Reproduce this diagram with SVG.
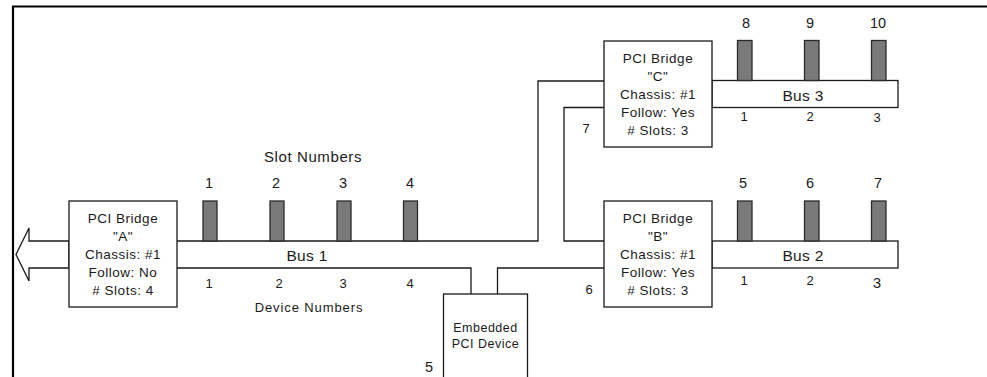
<svg xmlns="http://www.w3.org/2000/svg" width="987" height="377" viewBox="0 0 987 377">
<style>
.ln{fill:none;stroke:#1a1a1a;stroke-width:1.3}
.box{fill:#fff;stroke:#1a1a1a;stroke-width:1.3}
.slot{fill:#7a7a7a;stroke:#2a2a2a;stroke-width:1.3}
.frame{fill:none;stroke:#000;stroke-width:2.2}
text{font-family:"Liberation Sans",Arial,sans-serif;fill:#1a1a1a;text-anchor:middle}
.br{font-size:13.5px;letter-spacing:0.5px}
.sn{font-size:14.5px}
.dn{font-size:13px}
.bus{font-size:15.5px;letter-spacing:0.3px}
.cap{font-size:15px;letter-spacing:0.6px}
</style>
<rect width="987" height="377" fill="#fff"/>
<g id="frame">
<path class="frame" d="M13 377V6.5H987"/>
</g>
<g id="connectors">
<polygon class="box" points="69,241 29,241 29,228 16,254.5 29,281 29,268 69,268"/>
<path class="ln" d="M177 241H538V81H604"/>
<path class="ln" d="M604 107.5H564V241H604"/>
<path class="ln" d="M177 268H471V294"/>
<path class="ln" d="M497.5 294V268H604"/>
</g>
<g id="bus1-labels">
<text class="cap" x="313" y="162">Slot Numbers</text>
<text class="sn" x="209" y="188">1</text>
<text class="sn" x="276" y="188">2</text>
<text class="sn" x="343" y="188">3</text>
<text class="sn" x="410" y="188">4</text>
<rect class="slot" x="203" y="201" width="14" height="40"/>
<rect class="slot" x="270" y="201" width="14" height="40"/>
<rect class="slot" x="337" y="201" width="14" height="40"/>
<rect class="slot" x="403.5" y="201" width="14" height="40"/>
<text class="bus" x="307" y="260.5">Bus 1</text>
<text class="dn" x="209" y="288">1</text>
<text class="dn" x="279" y="288">2</text>
<text class="dn" x="343" y="288">3</text>
<text class="dn" x="410" y="288">4</text>
<text class="cap" x="309" y="311.5" style="font-size:13px;letter-spacing:0.9px">Device Numbers</text>
</g>
<g id="bridgeA">
<rect class="box" x="69" y="201" width="108" height="106"/>
<text class="br" x="123" y="223">PCI Bridge</text>
<text class="br" x="123" y="241">"A"</text>
<text class="br" x="123" y="259">Chassis: #1</text>
<text class="br" x="123" y="277">Follow: No</text>
<text class="br" x="123" y="295"># Slots: 4</text>
</g>
<g id="embedded">
<rect class="box" x="443.5" y="294" width="84" height="90"/>
<text class="br" x="485.5" y="331.5" style="font-size:12.5px">Embedded</text>
<text class="br" x="485.5" y="347.5" style="font-size:12.5px">PCI Device</text>
<text class="sn" x="429" y="372">5</text>
</g>
<g id="bridgeB">
<rect class="box" x="712" y="241" width="186" height="27"/>
<rect class="slot" x="737.5" y="201" width="14.5" height="40"/>
<rect class="slot" x="804.5" y="201" width="14.5" height="40"/>
<rect class="slot" x="871.5" y="201" width="14.5" height="40"/>
<text class="sn" x="743" y="188">5</text>
<text class="sn" x="810" y="188">6</text>
<text class="sn" x="878" y="188">7</text>
<text class="bus" x="803" y="260.5">Bus 2</text>
<text class="dn" x="744" y="285">1</text>
<text class="dn" x="810" y="285">2</text>
<text class="sn" x="877" y="288">3</text>
<rect class="box" x="604" y="201" width="108" height="106"/>
<text class="br" x="658" y="223">PCI Bridge</text>
<text class="br" x="658" y="241">"B"</text>
<text class="br" x="658" y="259">Chassis: #1</text>
<text class="br" x="658" y="277">Follow: Yes</text>
<text class="br" x="658" y="295"># Slots: 3</text>
<text class="dn" x="589" y="294">6</text>
</g>
<g id="bridgeC">
<rect class="box" x="712" y="80.5" width="186" height="27"/>
<rect class="slot" x="737.5" y="40.5" width="14.5" height="40"/>
<rect class="slot" x="804.5" y="40.5" width="14.5" height="40"/>
<rect class="slot" x="871.5" y="40.5" width="14.5" height="40"/>
<text class="sn" x="746" y="28">8</text>
<text class="sn" x="810" y="28">9</text>
<text class="sn" x="878" y="28">10</text>
<text class="bus" x="803" y="100.5">Bus 3</text>
<text class="dn" x="744" y="121">1</text>
<text class="dn" x="810" y="121">2</text>
<text class="dn" x="877" y="122">3</text>
<rect class="box" x="604" y="41" width="108" height="106"/>
<text class="br" x="658" y="63">PCI Bridge</text>
<text class="br" x="658" y="81">"C"</text>
<text class="br" x="658" y="99">Chassis: #1</text>
<text class="br" x="658" y="117">Follow: Yes</text>
<text class="br" x="658" y="135"># Slots: 3</text>
<text class="dn" x="586" y="132.5">7</text>
</g>
</svg>
